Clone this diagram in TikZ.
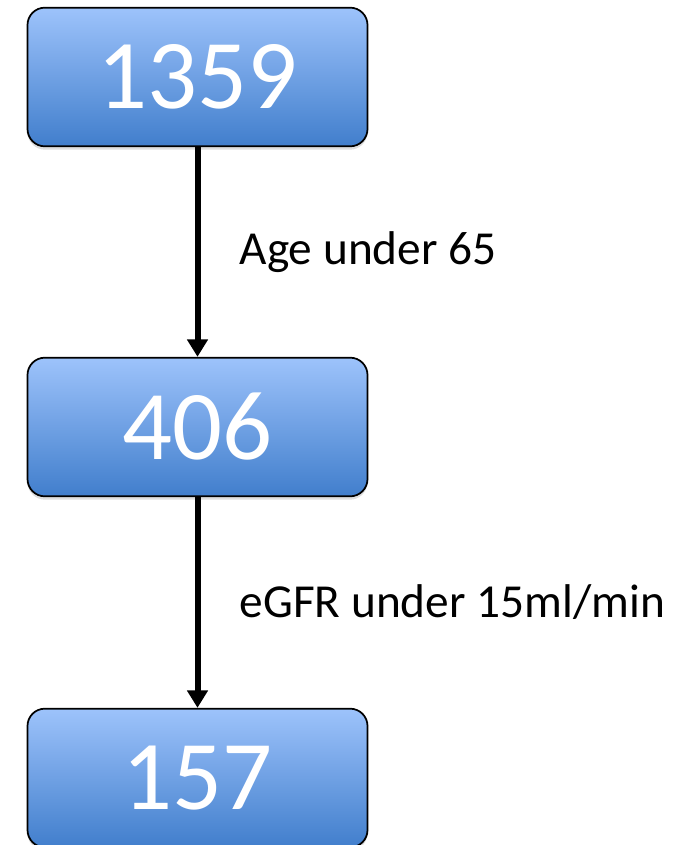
\documentclass[tikz,border=0pt]{standalone}
\usepackage{fontspec}
\setmainfont{Carlito}
\usetikzlibrary{arrows.meta,shadows}
\definecolor{boxtop}{HTML}{9DC3FB}
\definecolor{boxbottom}{HTML}{417ECC}
\begin{document}
\begin{tikzpicture}[x=0.75pt, y=-0.75pt, >={Triangle[width=15pt,length=13pt]},
		countbox/.style={draw=black, line width=1.3pt, rounded corners=13pt,
				top color=boxtop, bottom color=boxbottom,
				minimum width=255pt, minimum height=104pt,
				drop shadow={opacity=0.25, shadow xshift=0pt, shadow yshift=-2.5pt},
				text=white, font=\fontsize{74}{80}\selectfont},
		steplabel/.style={anchor=west, font=\fontsize{35.5}{40}\selectfont}]
	\useasboundingbox (0,0) rectangle (692,845);
	\node[countbox] (all) at (197.5,77) {1359};
	\node[countbox] (young) at (197.5,427) {406};
	\node[countbox] (egfr) at (197.5,778) {157};
	\draw[->, line width=4.5pt] (all.south) -- node[steplabel, xshift=26pt] {Age under 65} (young.north);
	\draw[->, line width=4.5pt] (young.south) -- node[steplabel, xshift=26pt] {eGFR under 15ml/min} (egfr.north);
\end{tikzpicture}
\end{document}
